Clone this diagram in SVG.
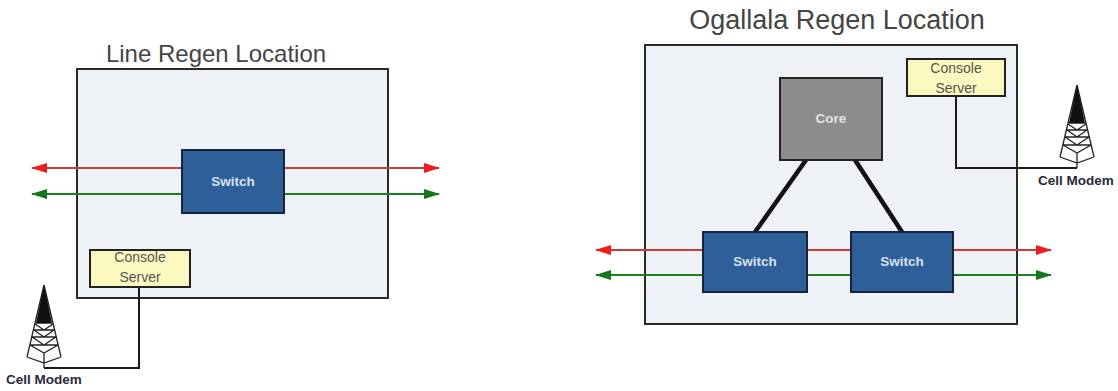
<svg xmlns="http://www.w3.org/2000/svg" width="1118" height="391" viewBox="0 0 1118 391">
<defs>
<style>
text{font-family:"Liberation Sans",Arial,sans-serif;text-anchor:middle}
.title{font-size:24px;fill:#444}
.room{fill:#eef1f6;stroke:#2a2a2a;stroke-width:2}
.switch{fill:#2f5f98;stroke:#15233c;stroke-width:2}
.swt{font-size:13.5px;font-weight:bold;fill:#d5e2f2}
.core{fill:#8c8c8c;stroke:#222;stroke-width:2}
.cs{fill:#fcf9c0;stroke:#222;stroke-width:2}
.cst{font-size:14px;fill:#555}
.cell{font-size:13.5px;font-weight:bold;fill:#2a2a3a}
.red{stroke:#d03a3a;stroke-width:2;fill:none}
.green{stroke:#1b8020;stroke-width:2;fill:none}
.ra{marker-end:url(#ar)}
.ga{marker-end:url(#ag)}
.wire{stroke:#1a1a1a;stroke-width:2;fill:none}
.thick{stroke:#111;stroke-width:4.5;fill:none}
.tw{stroke:#222;fill:none;stroke-width:1.3}
</style>
<marker id="ar" markerUnits="userSpaceOnUse" markerWidth="16" markerHeight="10" refX="15" refY="5" orient="auto"><path d="M0 0L16 5L0 10Z" fill="#ee1c1c"/></marker>
<marker id="ag" markerUnits="userSpaceOnUse" markerWidth="16" markerHeight="10" refX="15" refY="5" orient="auto"><path d="M0 0L16 5L0 10Z" fill="#12781a"/></marker>
<g id="tower">
<path class="tw" d="M0 0L-17 72M0 0L17 72M0 68V83M-17 72L0 78L17 72M-14 60L0 68L14 60M-12 52L0 60L12 52M-10 45L0 52L10 45M-9 39L0 45L9 39M-14 60L14 60M-12 52L12 52M-10 45L10 45M-8 38L8 38"/>
<path d="M0 0L-8 38H8Z" fill="#111"/>
</g>
</defs>
<rect width="1118" height="391" fill="#fff"/>
<g id="room-line"><rect class="room" x="77" y="69" width="311" height="229"/></g>
<g id="room-ogallala"><rect class="room" x="645" y="45" width="372" height="279"/></g>
<g id="connectors">
<path class="red ra" d="M182 168H32"/>
<path class="red ra" d="M284 168H439"/>
<path class="green ga" d="M182 194H32"/>
<path class="green ga" d="M284 194H439"/>
<path class="wire" d="M139 287V368H44"/>
<path class="red ra" d="M703 250H596"/>
<path class="red" d="M807 250H851"/>
<path class="red ra" d="M953 250H1051"/>
<path class="green ga" d="M703 275H596"/>
<path class="green" d="M807 275H851"/>
<path class="green ga" d="M953 275H1051"/>
<path class="thick" d="M806 160L755 232"/>
<path class="thick" d="M855 160L902 232"/>
<path class="wire" d="M956 96V168H1077"/>
</g>
<g id="title-line"><text class="title" x="216" y="62">Line Regen Location</text></g>
<g id="title-ogallala"><text class="title" x="837" y="29" style="font-size:27px">Ogallala Regen Location</text></g>
<g id="switch-line"><rect class="switch" x="182" y="150" width="102" height="63"/><text class="swt" x="233" y="186">Switch</text></g>
<g id="console-line"><rect class="cs" x="90" y="250" width="100" height="37"/><text class="cst" x="140" y="262">Console</text><text class="cst" x="140" y="282">Server</text></g>
<g id="modem-line"><use href="#tower" x="44" y="285"/><text class="cell" x="44" y="384">Cell Modem</text></g>
<g id="core"><rect class="core" x="780" y="78" width="102" height="82"/><text x="831" y="123" font-size="13.5" font-weight="bold" fill="#e4e4e4">Core</text></g>
<g id="switch-a"><rect class="switch" x="703" y="232" width="104" height="60"/><text class="swt" x="755" y="266">Switch</text></g>
<g id="switch-b"><rect class="switch" x="851" y="232" width="102" height="60"/><text class="swt" x="902" y="266">Switch</text></g>
<g id="console-ogallala"><rect class="cs" x="907" y="59" width="98" height="37"/><text class="cst" x="956" y="73">Console</text><text class="cst" x="956" y="93">Server</text></g>
<g id="modem-ogallala"><use href="#tower" x="1077" y="85"/><text class="cell" x="1076" y="185">Cell Modem</text></g>
</svg>
